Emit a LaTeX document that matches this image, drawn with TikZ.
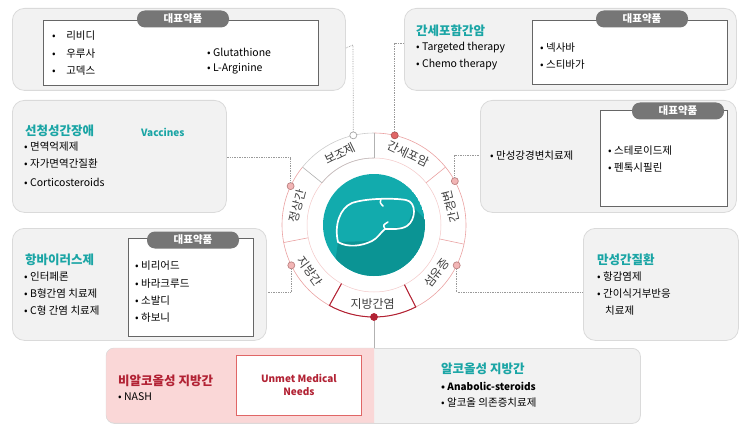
\documentclass[tikz,border=0pt]{standalone}
\usepackage{fontspec}
\setmainfont{Noto Sans CJK KR}
\usetikzlibrary{calc}
\definecolor{boxfill}{HTML}{F2F2F2}
\definecolor{boxline}{HTML}{DADADA}
\definecolor{pill}{HTML}{767676}
\definecolor{teal1}{HTML}{1AA5A5}
\definecolor{tealc}{HTML}{12ABAD}
\definecolor{tealsh}{HTML}{0B9494}
\definecolor{darkred}{HTML}{B22234}
\definecolor{pinkline}{HTML}{EBA3A3}
\definecolor{pinkdot}{HTML}{F2B5B5}
\definecolor{reddot}{HTML}{E06666}
\definecolor{pinkfill}{HTML}{FAD7D7}
\tikzset{
 bigbox/.style={draw=boxline,fill=boxfill,rounded corners=12pt,line width=0.8pt},
 whitebox/.style={draw=gray!80!black,fill=white,line width=0.8pt},
 pilllbl/.style={fill=pill,text=white,rounded corners=8pt,minimum width=92pt,minimum height=17pt,inner sep=0pt,font=\fontsize{10.5}{12}\selectfont\bfseries},
 title/.style={anchor=west,text=teal1,font=\fontsize{12.5}{14}\selectfont\bfseries,inner sep=0pt},
 item/.style={anchor=west,font=\fontsize{10.5}{12}\selectfont,inner sep=0pt},
 seglbl/.style={font=\fontsize{12}{13}\selectfont,text=black!75,inner sep=0pt},
 conn/.style={densely dotted,gray!80,line width=0.7pt},
 dotm/.style={circle,minimum size=7pt,inner sep=0pt,line width=0.7pt}
}
\begin{document}
\begin{tikzpicture}[x=1pt,y=1pt]
\useasboundingbox (0,0) rectangle (748,-428);
% ---------- boxes ----------
\node[bigbox,minimum width=333pt,minimum height=82pt,anchor=north west] (b1) at (12,-8) {};
\node[whitebox,minimum width=275pt,minimum height=65pt,anchor=north west] (w1) at (43,-20) {};
\node[pilllbl] (p1) at (183,-19) {대표약품};
\node[item] (b1a) at (52,-36) {•\quad 리비디};
\node[item] (b1b) at (52,-54) {•\quad 우루사};
\node[item] (b1c) at (52,-71) {•\quad 고덱스};
\node[item] (b1d) at (207,-52) {• Glutathione};
\node[item] (b1e) at (207,-69) {• L-Arginine};

\node[bigbox,minimum width=214pt,minimum height=112pt,anchor=north west] (b2) at (12,-100) {};
\node[title] (t2) at (25,-131) {선청성간장애};
\node[anchor=west,inner sep=0pt,text=teal1,font=\fontsize{10}{12}\selectfont\bfseries] (v2) at (141,-132) {Vaccines};
\node[item] (b2a) at (24,-147) {• 면역억제제};
\node[item] (b2b) at (24,-164) {• 자가면역간질환};
\node[item] (b2c) at (24,-182) {• Corticosteroids};

\node[bigbox,minimum width=332pt,minimum height=82pt,anchor=north west] (b3) at (404,-8) {};
\node[whitebox,minimum width=195pt,minimum height=64pt,anchor=north west] (w3) at (532,-20) {};
\node[pilllbl] (p3) at (642,-19) {대표약품};
\node[title] (t3) at (416,-31) {간세포함간암};
\node[item] (b3a) at (416,-48) {• Targeted therapy};
\node[item] (b3b) at (416,-65) {• Chemo therapy};
\node[item] (b3c) at (540,-48) {• 넥사바};
\node[item] (b3d) at (540,-65) {• 스티바가};

\node[bigbox,minimum width=256pt,minimum height=112pt,anchor=north west] (b4) at (480,-100) {};
\node[whitebox,minimum width=127pt,minimum height=96pt,anchor=north west] (w4) at (600,-110) {};
\node[pilllbl] (p4) at (678,-111) {대표약품};
\node[item] (b4a) at (490,-156) {• 만성강경변치료제};
\node[item] (b4b) at (608,-151) {• 스테로이드제};
\node[item] (b4c) at (608,-168) {• 펜톡시필린};

\node[bigbox,minimum width=254pt,minimum height=112pt,anchor=north west] (b5) at (12,-228) {};
\node[whitebox,minimum width=125pt,minimum height=98pt,anchor=north west] (w5) at (128,-238) {};
\node[pilllbl] (p5) at (193,-240) {대표약품};
\node[title] (t5) at (25,-260) {항바이러스제};
\node[item] (b5a) at (24,-277) {• 인터페론};
\node[item] (b5b) at (24,-294) {• B형간염 치료제};
\node[item] (b5c) at (24,-311) {• C형 간염 치료제};
\node[item] (b5d) at (135,-266) {• 비리어드};
\node[item] (b5e) at (135,-284) {• 바라크루드};
\node[item] (b5f) at (135,-301) {• 소발디};
\node[item] (b5g) at (135,-318) {• 하보니};

\node[bigbox,minimum width=155pt,minimum height=112pt,anchor=north west] (b6) at (583,-228) {};
\node[title] (t6) at (597,-260) {만성간질환};
\node[item] (b6a) at (597,-277) {• 항감염제};
\node[item] (b6b) at (597,-294) {• 간이식거부반응};
\node[item] (b6c) at (605,-311) {치료제};

% bottom
\node[bigbox,minimum width=534pt,minimum height=75pt,anchor=north west,rounded corners=8pt] (b7) at (106,-348) {};
\begin{scope}
\clip (0,0) rectangle (374,-428);
\fill[pinkfill,draw=boxline,rounded corners=8pt] (106,-348) rectangle (640,-423);
\end{scope}
\node[draw=reddot,fill=white,line width=0.8pt,minimum width=125pt,minimum height=60pt,anchor=north west] (w7) at (236,-355) {};
\node[align=center,text=darkred,font=\fontsize{10}{13}\selectfont\bfseries] (um) at (w7.center) {Unmet Medical\\Needs};
\node[title,text=darkred] (t7) at (118,-381) {비알코올성 지방간};
\node[item] (b7a) at (118,-397) {• NASH};
\node[title] (t8) at (441,-369) {알코올성 지방간};
\node[item,font=\fontsize{10}{12}\selectfont\bfseries] (b8a) at (441,-386) {• Anabolic-steroids};
\node[item] (b8b) at (441,-403) {• 알코올 의존증치료제};

% ---------- wheel ----------
\coordinate (C) at (374,-225);
\fill[white] (C) circle (92);
\draw[gray!40,line width=0.6pt] ([shift={(90:92)}]C) arc[start angle=90,end angle=141,radius=92];
\draw[pinkline,line width=0.6pt] ([shift={(141:92)}]C) arc[start angle=141,end angle=450,radius=92];
\draw[pinkline!60,line width=0.5pt] (C) circle (67);
\foreach \a in {39,-12,-63,-119,-169}{
  \draw[pinkline,line width=0.6pt] ([shift={(\a:67)}]C) -- ([shift={(\a:92)}]C);}
\draw[gray!60,line width=0.6pt] ([shift={(90:67)}]C) -- ([shift={(90:92)}]C);
\draw[gray!60,line width=0.6pt] ([shift={(141:67)}]C) -- ([shift={(141:92)}]C);
\draw[gray!50,line width=0.6pt] ([shift={(90:67)}]C) arc[start angle=90,end angle=141,radius=67];
\draw[darkred,line width=1pt] ([shift={(-63:67)}]C) -- ([shift={(-63:92)}]C) arc[start angle=-63,end angle=-119,radius=92] -- ([shift={(-119:67)}]C);
% labels
\node[seglbl,rotate=26] (s1) at ([shift={(115.5:79)}]C) {보조제};
\node[seglbl,rotate=-25.5] (s2) at ([shift={(64.5:79)}]C) {간세포암};
\node[seglbl,rotate=103.5] (s3) at ([shift={(13.5:79)}]C) {간경변};
\node[seglbl,rotate=52] (s4) at ([shift={(-37.5:79)}]C) {섬유증};
\node[seglbl] (s5) at ([shift={(-91:79)}]C) {지방간염};
\node[seglbl,rotate=-54] (s6) at ([shift={(-144:79)}]C) {지방간};
\node[seglbl,rotate=76] (s7) at ([shift={(166:79)}]C) {정상간};
% teal circle with shadow
\begin{scope}
\clip (C) circle (51);
\fill[tealc] (C) circle (51);
\fill[tealsh] (338,-242) -- (372,-241) -- (385,-229) -- (407,-226) -- (414,-208) -- (470,-265) -- (420,-320) -- (330,-300) -- cycle;
\end{scope}
\draw[white,line width=1.7pt,line join=round]
  (338,-242) .. controls (334,-225) and (340,-208) .. (352,-203)
  .. controls (366,-198) and (395,-198) .. (406,-200)
  .. controls (417,-202) and (416,-220) .. (407,-226)
  .. controls (400,-230) and (392,-229) .. (385,-229)
  .. controls (380,-233) and (378,-238) .. (372,-241)
  .. controls (362,-246) and (348,-248) .. (338,-242) -- cycle;
\draw[white,line width=1.5pt,line cap=round] (385,-229) .. controls (383,-225) .. (388,-222);
\draw[white,line width=1.5pt,line cap=round] (381,-199) .. controls (380,-203) .. (383,-206);
% dots
\node[dotm,draw=gray!70,fill=white] (d1) at ([shift={(103:92)}]C) {};
\node[dotm,draw=reddot!80!black,fill=reddot] (d2) at ([shift={(77:92)}]C) {};
\node[dotm,draw=pinkline!80!black,fill=pinkdot] (d3) at ([shift={(155:92)}]C) {};
\node[dotm,draw=pinkline!80!black,fill=pinkdot] (d4) at ([shift={(28.5:92)}]C) {};
\node[dotm,draw=pinkline!80!black,fill=pinkdot] (d5) at ([shift={(206:92)}]C) {};
\node[dotm,draw=pinkline!80!black,fill=pinkdot] (d6) at ([shift={(-26:92)}]C) {};
\node[dotm,draw=darkred,fill=darkred] (d7) at ([shift={(-90:92)}]C) {};
% connectors
\coordinate (e1) at (353,-45);
\draw[conn] (d1) -- (e1) -- (b1.east |- 0,-48);
\coordinate (e2) at (d2 |- 0,-43);
\draw[conn] (d2) -- (e2) -- (b3.west |- e2);
\coordinate (e3) at (d3 |- 0,-157);
\draw[conn] (d3) -- (e3) -- (b2.east |- e3);
\coordinate (e4) at (d4 |- 0,-155);
\draw[conn] (d4) -- (e4) -- (b4.west |- e4);
\coordinate (e5) at (d5 |- 0,-292);
\draw[conn] (d5) -- (e5) -- (b5.east |- e5);
\coordinate (e6) at (d6 |- 0,-292);
\draw[conn] (d6) -- (e6) -- (b6.west |- e6);
\draw[gray!60,line width=0.6pt] (d7) -- (d7 |- b7.north);
\end{tikzpicture}
\end{document}
